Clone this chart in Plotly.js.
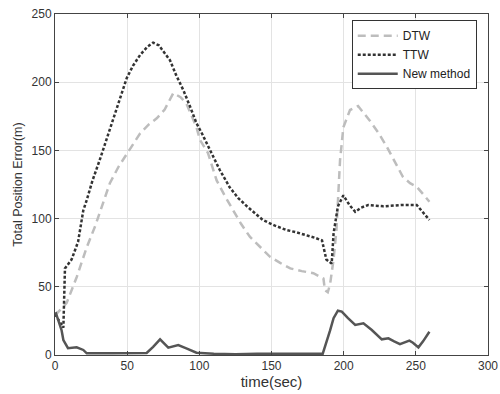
<!DOCTYPE html>
<html>
<head>
<meta charset="utf-8">
<script src="https://cdn.plot.ly/plotly-3.0.1.min.js"></script>
<style>html,body{margin:0;padding:0;background:#fff;}#chart{width:500px;height:394px;}</style>
</head>
<body>
<div id="chart"></div>
<script>
// DTW series
const dtwT = [0, 8, 15, 22, 28, 31, 38, 44, 50, 59, 65, 70.5, 76, 82, 87, 91, 98, 100.5, 106, 112, 118, 123.6, 129, 135, 142, 149, 156, 163, 171, 179, 186, 187, 189, 190.6, 193, 195, 197.5, 199.8, 204.4, 210, 218, 224, 229.9, 236, 241, 246, 250.6, 255, 259.4];
const dtwY = [29, 38, 57, 79, 95, 104, 126, 138, 148, 162.5, 169, 173.5, 180, 192, 189, 184.5, 167, 157.6, 148, 128, 116, 106, 96, 86.7, 79, 72, 67.5, 63.5, 61.5, 60, 56, 47.6, 46, 52, 70, 91.6, 143, 167, 179.6, 182.5, 172, 163, 152.7, 141, 130.7, 126, 123.4, 118, 112.4];
// TTW series
const ttwT = [0, 3, 5.8, 6.9, 11.5, 16, 19.6, 22, 26, 31, 37, 42.7, 49.7, 54, 59, 64, 68, 72, 75, 79.7, 84, 89, 94, 98, 102, 107.4, 114, 121, 127, 133, 144, 152, 160.5, 167, 174.4, 180, 185, 188, 191.7, 193, 196, 199.8, 204, 208, 212, 217, 227.5, 240, 250.6, 254, 259.4];
const ttwY = [30, 25, 20, 63.5, 70, 83, 106, 113.6, 128, 143, 162, 180, 203, 212, 220, 226, 229, 227, 223, 216, 205, 194, 181, 170, 162, 150, 136, 123, 115, 109, 99, 95, 91.6, 90, 88, 86, 84, 70, 67, 89, 109, 117, 110, 105, 108, 110, 109, 110, 110, 106, 99];
// New method series
const newT = [0, 0.7, 4.6, 5.8, 9, 12, 15, 19.6, 22, 40, 63.5, 68, 72.8, 78.5, 82, 85.4, 91, 98, 110, 125, 140, 160, 185.5, 190.6, 193, 196, 198.7, 203, 208, 213.7, 219.5, 226.4, 231, 235, 239, 245.5, 248, 251.8, 255, 259.4];
const newY = [30, 30.5, 18, 11, 5, 5.5, 5.6, 3.7, 1.2, 1.2, 1.5, 6, 11.5, 5.4, 6.5, 7.3, 4.9, 1.7, 1, 0.5, 1, 1, 1, 18, 27, 32.5, 31.8, 27, 22, 23.2, 18.3, 11.5, 12.2, 10, 8, 10.5, 9, 5.6, 10, 17];

const seriesNames = ['DTW', 'TTW', 'New method'];
const xTicks = [0, 50, 100, 150, 200, 250, 300];
const yTicks = [0, 50, 100, 150, 200, 250];

const data = [
  {x: dtwT, y: dtwY, name: seriesNames[0], mode: 'lines', line: {color: '#bdbdbd', width: 2.5, dash: '8px,5px'}},
  {x: ttwT, y: ttwY, name: seriesNames[1], mode: 'lines', line: {color: '#333333', width: 2.5, dash: '3px,2px'}},
  {x: newT, y: newY, name: seriesNames[2], mode: 'lines', line: {color: '#555555', width: 2.5}}
];

const fam = 'Liberation Sans, Arial, sans-serif';
const axisCommon = {
  showline: true, linecolor: '#444', linewidth: 1, mirror: 'ticks',
  ticks: 'inside', ticklen: 4, tickcolor: '#444',
  showgrid: true, gridcolor: '#e3e3e3', gridwidth: 1,
  zeroline: false,
  tickfont: {family: fam, size: 12, color: '#333'}
};

const layout = {
  width: 500, height: 394,
  margin: {l: 55, r: 12, t: 14, b: 39},
  paper_bgcolor: '#fff', plot_bgcolor: '#fff',
  showlegend: true,
  xaxis: Object.assign({}, axisCommon, {
    range: [0, 300], tickvals: xTicks,
    title: {text: 'time(sec)', font: {family: fam, size: 15, color: '#333'}, standoff: 3}
  }),
  yaxis: Object.assign({}, axisCommon, {
    range: [0, 250], tickvals: yTicks,
    title: {text: 'Total Position Error(m)', font: {family: fam, size: 12.5, color: '#333'}, standoff: 6}
  }),
  legend: {
    x: 0.974, y: 0.982, xanchor: 'right', yanchor: 'top',
    bgcolor: '#fff', bordercolor: '#333', borderwidth: 1,
    font: {family: fam, size: 12, color: '#222'},
    tracegroupgap: 0, itemwidth: 40
  }
};

Plotly.newPlot('chart', data, layout, {displayModeBar: false, staticPlot: true});
</script>
</body>
</html>
